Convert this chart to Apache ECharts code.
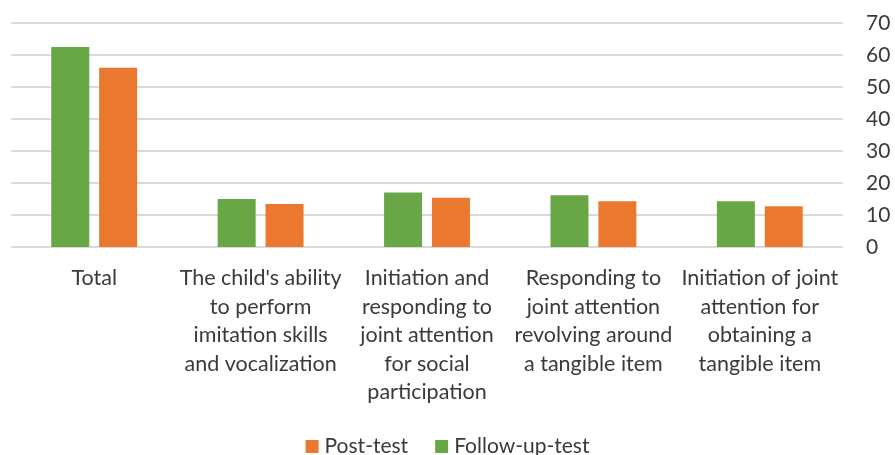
<!DOCTYPE html>
<html>
<head>
<meta charset="utf-8">
<script src="https://cdn.jsdelivr.net/npm/echarts@6/dist/echarts.min.js"></script>
<style>
  html, body { margin: 0; padding: 0; background: #ffffff; }
  #chart { width: 895px; height: 455px; }
</style>
</head>
<body>
<div id="chart"></div>
<script>
// Subscale categories (line breaks as they are wrapped under the axis)
const categories = [
  'Total',
  "The child's ability\nto perform\nimitation skills\nand vocalization",
  'Initiation and\nresponding to\njoint attention\nfor social\nparticipation',
  'Responding to\njoint attention\nrevolving around\na tangible item',
  'Initiation of joint\nattention for\nobtaining a\ntangible item'
];

// Mean scores per test
const followUpTest = [62.5, 15.0, 17.0, 16.2, 14.3];
const postTest = [56.0, 13.4, 15.4, 14.3, 12.7];

// Value axis ticks
const yMin = 0;
const yMax = 70;
const yStep = 10;

const FONT = 'Lato, "Open Sans", "Noto Sans", sans-serif';
const TEXT = '#3a3a3a';

const chart = echarts.init(document.getElementById('chart'), null, { renderer: 'canvas' });

chart.setOption({
  animation: false,
  backgroundColor: '#ffffff',
  textStyle: { fontFamily: FONT },
  legend: {
    top: 431,
    left: 'center',
    data: ['Post-test', 'Follow-up-test'],
    icon: 'rect',
    itemWidth: 13,
    itemHeight: 13,
    itemGap: 27,
    textStyle: { fontFamily: FONT, fontSize: 21, color: TEXT, padding: [0, 0, 0, 1] }
  },
  grid: {
    left: 11,
    right: 52,
    top: 23,
    bottom: 208,
    containLabel: false
  },
  xAxis: {
    type: 'category',
    data: categories,
    axisLine: { show: false },
    axisTick: { show: false },
    axisLabel: {
      interval: 0,
      margin: 17,
      fontFamily: FONT,
      fontSize: 21.5,
      lineHeight: 28.5,
      color: TEXT,
      align: 'center',
      verticalAlign: 'top'
    }
  },
  yAxis: {
    type: 'value',
    position: 'right',
    min: yMin,
    max: yMax,
    interval: yStep,
    axisLine: { show: false },
    axisTick: { show: false },
    axisLabel: {
      margin: 23,
      fontFamily: FONT,
      fontSize: 21,
      color: TEXT,
      align: 'left'
    },
    splitLine: { lineStyle: { color: '#d9d9d9', width: 2 } }
  },
  series: [
    {
      name: 'Follow-up-test',
      type: 'bar',
      data: followUpTest,
      barWidth: 38,
      barGap: '26%',
      itemStyle: { color: '#69a746' }
    },
    {
      name: 'Post-test',
      type: 'bar',
      data: postTest,
      barWidth: 38,
      barGap: '26%',
      itemStyle: { color: '#ea792f' }
    }
  ]
});
</script>
</body>
</html>
